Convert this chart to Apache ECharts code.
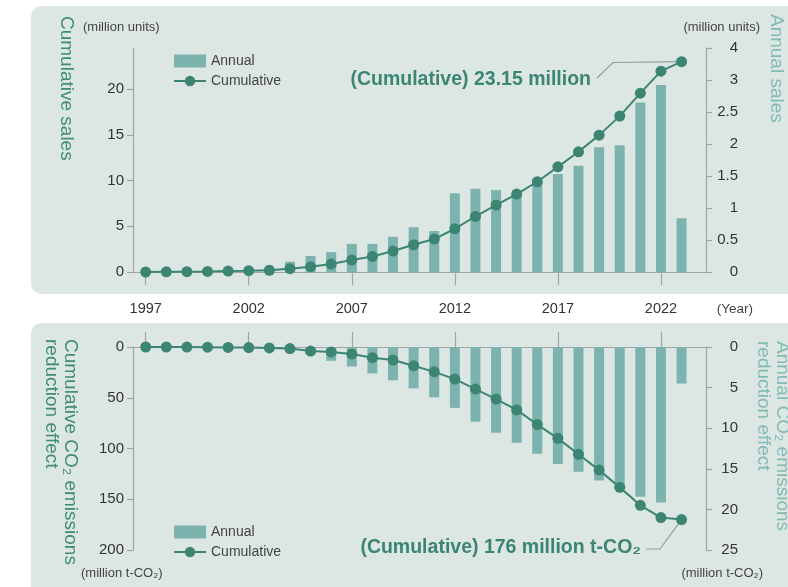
<!DOCTYPE html>
<html><head><meta charset="utf-8">
<script src="https://cdn.jsdelivr.net/npm/echarts@6/dist/echarts.min.js"></script>
<style>html,body{margin:0;padding:0;background:#fff}#c{width:788px;height:587px}</style>
</head><body><div id="c"></div>
<script>
// ---------- data ----------
const years = [1997,1998,1999,2000,2001,2002,2003,2004,2005,2006,2007,2008,2009,2010,2011,2012,2013,2014,2015,2016,2017,2018,2019,2020,2021,2022,2023];
const annualSales = [0.003,0.02,0.02,0.02,0.04,0.04,0.05,0.16,0.25,0.31,0.44,0.44,0.55,0.70,0.64,1.23,1.30,1.28,1.21,1.40,1.53,1.66,1.95,1.98,2.65,2.92,0.84];
const cumulativeSales = [0,0.02,0.04,0.06,0.1,0.14,0.19,0.36,0.58,0.87,1.31,1.70,2.29,2.98,3.60,4.73,6.08,7.32,8.52,9.87,11.5,13.15,14.97,17.05,19.56,21.97,23.0];
const annualCO2 = [0,0.1,0.1,0.1,0.2,0.2,0.3,0.6,0.9,1.7,2.4,3.25,4.1,5.1,6.2,7.5,9.2,10.55,11.8,13.15,14.4,15.35,16.45,17.4,18.45,19.15,4.5];
const cumulativeCO2 = [0,0,0.1,0.2,0.4,0.6,0.9,1.5,4,5,7,10.5,12.8,18.5,24.5,31.6,41.5,51.3,62,76.4,90,105.7,121.3,138.3,156,168,170];
const yearTicks = [1997,2002,2007,2012,2017,2022];
const salesLeftTicks = [0,5,10,15,20];
const salesRightTicks = [0,0.5,1,1.5,2,2.5,3,3.5];
const salesRightLabels = ['0','0.5','1','1.5','2','2.5','3','4'];
const co2LeftTicks = [0,50,100,150,200];
const co2RightTicks = [0,5,10,15,20,25];

// ---------- style ----------
const FONT = "'Liberation Sans', Arial, Helvetica, sans-serif";
const BG = '#dce7e4', BAR = '#7db3ae', LINE = '#3b8572', GREEN = '#3e8c74', TEAL = '#82bab4';
const AXIS = '#a3a3a3', TXT = '#333333';

const chart = echarts.init(document.getElementById('c'), null, {renderer:'canvas'});
const pair = arr => years.map((y,i)=>[y, arr[i]]);
const xMin = 1996.384, xMax = 2024.186;

function yAx(grid, pos, min, max, ticks, inverse, fmt){
  return {
    type:'value', gridIndex:grid, position:pos, min:min, max:max, inverse:inverse,
    axisLine:{show:true, onZero:false, lineStyle:{color:AXIS, width:1.2}},
    axisTick:{show:true, customValues:ticks, length:6, lineStyle:{color:AXIS, width:1.2}},
    axisLabel:{customValues:ticks, margin: pos==='left'?9:32, align:'right', fontSize:15, color:TXT, fontFamily:FONT, formatter:fmt || (v=>String(v))},
    splitLine:{show:false}
  };
}

const legendData = [{name:'Annual', icon:'rect'}, {name:'Cumulative'}];

const option = {
  animation:false,
  grid:[
    {left:133, top:48, width:573, height:224},
    {left:133, top:347, width:573, height:203}
  ],
  xAxis:[
    {type:'value', gridIndex:0, min:xMin, max:xMax,
     axisLine:{lineStyle:{color:AXIS, width:1.2}},
     axisTick:{customValues:yearTicks, length:13, lineStyle:{color:AXIS, width:1.2}},
     axisLabel:{customValues:yearTicks, margin:29, fontSize:14.5, color:TXT, fontFamily:FONT, formatter:v=>String(v)},
     splitLine:{show:false}},
    {type:'value', gridIndex:1, min:xMin, max:xMax, position:'top',
     axisLine:{lineStyle:{color:AXIS, width:1.2}},
     axisTick:{customValues:yearTicks, length:15, lineStyle:{color:AXIS, width:1.2}},
     axisLabel:{show:false},
     splitLine:{show:false}}
  ],
  yAxis:[
    yAx(0,'left',0,24.5,salesLeftTicks,false),
    yAx(0,'right',0,3.5,salesRightTicks,false, v=>{
      let k=0; salesRightTicks.forEach((t,i)=>{ if(Math.abs(t-v)<1e-6) k=i; }); return salesRightLabels[k];
    }),
    yAx(1,'left',0,200,co2LeftTicks,true),
    yAx(1,'right',0,25,co2RightTicks,true)
  ],
  legend:[
    {left:168, top:49, orient:'vertical', itemWidth:32, itemHeight:13, itemGap:6, selectedMode:false,
     data:legendData, textStyle:{fontSize:14, color:'#444', fontFamily:FONT}},
    {left:168, top:520, orient:'vertical', itemWidth:32, itemHeight:13, itemGap:6, selectedMode:false,
     data:legendData, textStyle:{fontSize:14, color:'#444', fontFamily:FONT}}
  ],
  series:[
    {name:'Annual', type:'bar', xAxisIndex:0, yAxisIndex:1, data:pair(annualSales), barWidth:10, itemStyle:{color:BAR}, z:2},
    {name:'Cumulative', type:'line', xAxisIndex:0, yAxisIndex:0, data:pair(cumulativeSales), symbol:'circle', symbolSize:11,
     itemStyle:{color:LINE}, lineStyle:{color:LINE, width:2}, z:3},
    {name:'Annual', type:'bar', xAxisIndex:1, yAxisIndex:3, data:pair(annualCO2), barWidth:10, itemStyle:{color:BAR}, z:2},
    {name:'Cumulative', type:'line', xAxisIndex:1, yAxisIndex:2, data:pair(cumulativeCO2), symbol:'circle', symbolSize:11,
     itemStyle:{color:LINE}, lineStyle:{color:LINE, width:2}, z:3}
  ]
};
chart.setOption(option);

// annotations anchored to last points
const n = years.length - 1;
const pTop = chart.convertToPixel({xAxisIndex:0, yAxisIndex:0}, [years[n], cumulativeSales[n]]);
const pBot = chart.convertToPixel({xAxisIndex:1, yAxisIndex:2}, [years[n], cumulativeCO2[n]]);

function txt(x,y,text,opt){
  return {type:'text', x:x, y:y, z:5, style:Object.assign({text:text, fontFamily:FONT, fontSize:13, fill:'#444', align:'left', verticalAlign:'middle'}, opt||{})};
}
function vtxt(x,y,text,color){
  return {type:'text', x:x, y:y, rotation:-Math.PI/2, z:5,
    style:{text:text, fontFamily:FONT, fontSize:19, fill:color, align:'left', verticalAlign:'middle'}};
}

chart.setOption({graphic:[
  {type:'rect', z:-10, shape:{x:31, y:6, width:800, height:288, r:10}, style:{fill:BG}},
  {type:'rect', z:-10, shape:{x:31, y:323, width:800, height:300, r:10}, style:{fill:BG}},
  vtxt(66, 16, 'Cumulative sales', GREEN),
  vtxt(776, 14, 'Annual sales', TEAL),
  vtxt(70, 339, 'Cumulative CO\u2082 emissions', GREEN),
  vtxt(51.5, 339, 'reduction effect', GREEN),
  vtxt(782, 341, 'Annual CO\u2082 emissions', TEAL),
  vtxt(763.5, 341, 'reduction effect', TEAL),
  txt(83, 27, '(million units)'),
  txt(760, 27, '(million units)', {align:'right'}),
  txt(81, 573, '(million t-CO\u2082)'),
  txt(763, 573, '(million t-CO\u2082)', {align:'right'}),
  txt(753, 309, '(Year)', {align:'right', fontSize:13.5}),
  txt(591, 80, '(Cumulative) 23.15 million', {align:'right', fontSize:19.5, fontWeight:'bold', fill:LINE}),
  txt(641, 548, '(Cumulative) 176 million t-CO\u2082', {align:'right', fontSize:19.5, fontWeight:'bold', fill:LINE}),
  {type:'polyline', z:1, shape:{points:[[597,78],[613,62.5],[pTop[0],pTop[1]]]}, style:{stroke:'#9a9a9a', lineWidth:1.2, fill:null}},
  {type:'polyline', z:1, shape:{points:[[646,549],[660,549],[pBot[0],pBot[1]]]}, style:{stroke:'#9a9a9a', lineWidth:1.2, fill:null}}
]});
</script>
</body></html>
